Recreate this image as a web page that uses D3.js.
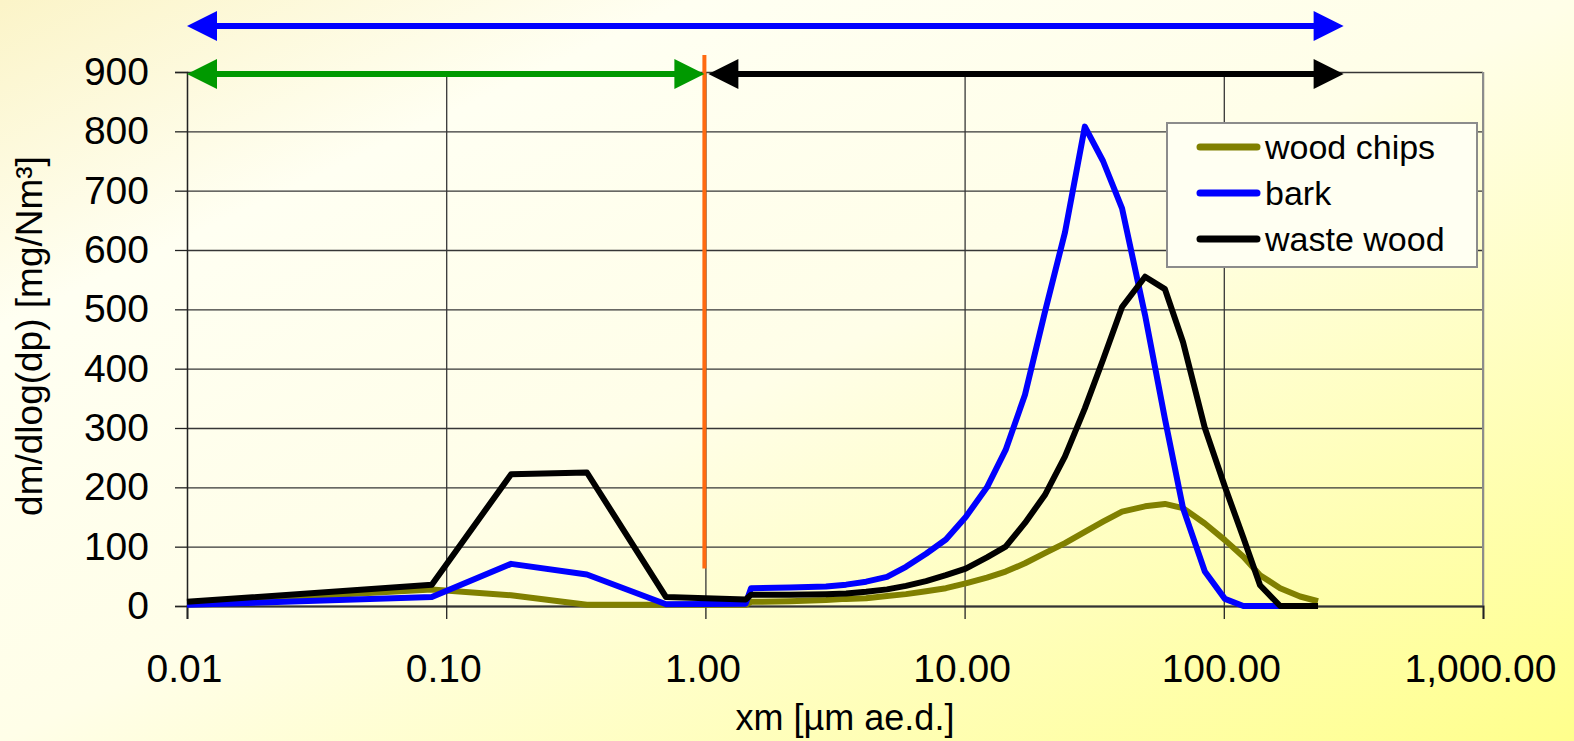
<!DOCTYPE html>
<html>
<head>
<meta charset="utf-8">
<script src="https://cdn.jsdelivr.net/npm/d3@7"></script>
<style>
  html, body { margin: 0; padding: 0; overflow: hidden; }
  svg { display: block; font-family: "Liberation Sans", Arial, sans-serif; }
</style>
</head>
<body>
<div id="chart"></div>
<script>
// ── chart geometry ─────────────────────────────────────────
const W      = 1574;
const H      = 741;
const MARGIN = { top: 72, right: 91, bottom: 135, left: 187 };

// ── data ───────────────────────────────────────────────────
// particle size classes, µm ae.d. (impactor part, then counter part)
const xm = [0.01, 0.088, 0.178, 0.349, 0.705, 1.43,
            1.50, 2.12, 2.92, 3.49, 4.17, 5.02, 5.94, 7.10, 8.47, 10.1,
            12.2, 14.4, 17.1, 20.4, 24.4, 29.1, 34.2, 40.5, 49.7, 59.3,
            69.6, 84.5, 101, 119, 138, 165, 197, 231];

const woodChips = [5, 28, 18, 2, 2, 2,
                   7, 8, 10, 12, 13, 17, 20, 25, 30, 38,
                   48, 58, 72, 89, 106, 125, 142, 159, 168, 172,
                   165, 139, 111, 83, 52, 30, 16, 8];

const bark      = [2, 15, 71, 53, 3, 4,
                   30, 31, 33, 36, 41, 49, 66, 88, 112, 150,
                   200, 263, 356, 495, 630, 808, 750, 670, 490, 315,
                   165, 58, 12, 0, 0, 0, null, null];

const wasteWood = [7, 36, 222, 225, 15, 11,
                   19, 19, 20, 21, 24, 28, 34, 42, 52, 63,
                   82, 100, 140, 187, 252, 333, 415, 504, 555, 534,
                   445, 300, 201, 115, 35, 0, 0, 0];

const seriesNames  = ["wood chips", "bark", "waste wood"];
const seriesColors = ["#808000", "#0000ff", "#000000"];

const xTicks = [0.01, 0.1, 1, 10, 100, 1000];
const yTicks = [0, 100, 200, 300, 400, 500, 600, 700, 800, 900];

const cutSize   = 1.0;          // orange separator (µm)
const cutBottom = 63;           // where it stops (mg/Nm³)
const rangeEnd  = 290;          // right end of the range arrows (µm)

const xTitle = "xm [µm ae.d.]";
const yTitle = "dm/dlog(dp) [mg/Nm³]";

// ── setup ─────────────────────────────────────────────────
const iW = W - MARGIN.left - MARGIN.right;
const iH = H - MARGIN.top - MARGIN.bottom;

const x = d3.scaleLog().domain([0.01, 1000]).range([0, iW]);
const y = d3.scaleLinear().domain([0, 900]).range([iH, 0]);

const svg = d3.select("#chart").append("svg").attr("width", W).attr("height", H);

const defs = svg.append("defs");
const bg = defs.append("linearGradient").attr("id", "bg")
  .attr("x1", 0).attr("y1", 0).attr("x2", 1).attr("y2", 1);
bg.append("stop").attr("offset", "0%").attr("stop-color", "#fbf4c8");
bg.append("stop").attr("offset", "22%").attr("stop-color", "#fffff2");
bg.append("stop").attr("offset", "50%").attr("stop-color", "#fffee8");
bg.append("stop").attr("offset", "100%").attr("stop-color", "#ffff8c");

svg.append("rect").attr("width", W).attr("height", H).attr("fill", "url(#bg)");

const g = svg.append("g").attr("transform", `translate(${MARGIN.left},${MARGIN.top})`);

// Grid
g.append("g")
  .call(d3.axisLeft(y).tickValues(yTicks).tickSize(-iW).tickFormat(""))
  .call(ax => ax.select(".domain").remove())
  .call(ax => ax.selectAll("line").attr("stroke", "#363636").attr("stroke-width", 1.3));

g.append("g")
  .call(d3.axisBottom(x).tickValues(xTicks).tickSize(iH).tickFormat(""))
  .call(ax => ax.select(".domain").remove())
  .call(ax => ax.selectAll("line").attr("stroke", "#363636").attr("stroke-width", 1.3));

// right border
g.append("line").attr("x1", iW).attr("x2", iW).attr("y1", 0).attr("y2", iH)
  .attr("stroke", "#8c8c8c").attr("stroke-width", 2);

// Y axis
g.append("g")
  .call(d3.axisLeft(y).tickValues(yTicks).tickSize(12).tickPadding(26))
  .call(ax => ax.select(".domain").attr("stroke", "#222").attr("stroke-width", 1.3))
  .call(ax => ax.selectAll("line").attr("stroke", "#222").attr("stroke-width", 1.3))
  .call(ax => ax.selectAll("text").attr("fill", "#000").attr("font-size", 39)
    .attr("font-family", "Liberation Sans, Arial, sans-serif"));

// X axis
g.append("g").attr("transform", `translate(0,${iH})`)
  .call(d3.axisBottom(x).tickValues(xTicks).tickSize(13).tickPadding(0)
    .tickFormat(d3.format(",.2f")))
  .call(ax => ax.select(".domain").attr("stroke", "#333").attr("stroke-width", 2))
  .call(ax => ax.selectAll("line").attr("stroke", "#222").attr("stroke-width", 1.3))
  .call(ax => ax.selectAll("text").attr("fill", "#000").attr("font-size", 39)
    .attr("font-family", "Liberation Sans, Arial, sans-serif")
    .attr("dy", null).attr("y", 76).attr("dx", -3));

// Axis titles
svg.append("text")
  .attr("transform", `translate(42,${MARGIN.top + iH / 2 - 3}) rotate(-90)`)
  .attr("text-anchor", "middle").attr("font-size", 37).attr("fill", "#000")
  .text(yTitle);

svg.append("text")
  .attr("x", MARGIN.left + iW / 2 + 10).attr("y", 730)
  .attr("text-anchor", "middle").attr("font-size", 36).attr("fill", "#000")
  .text(xTitle);

// Series
const allSeries = [woodChips, bark, wasteWood].map((vals, i) => ({
  name: seriesNames[i],
  color: seriesColors[i],
  points: xm.map((v, j) => ({ xm: v, val: vals[j] }))
}));

const line = d3.line()
  .defined(d => d.val != null)
  .x(d => x(d.xm))
  .y(d => y(d.val));

allSeries.forEach(s => {
  g.append("path").datum(s.points)
    .attr("d", line)
    .attr("fill", "none")
    .attr("stroke", s.color)
    .attr("stroke-width", 6)
    .attr("stroke-linejoin", "round");
});

// Orange separator line
g.append("line")
  .attr("x1", x(cutSize) - 1).attr("x2", x(cutSize) - 1)
  .attr("y1", -17).attr("y2", y(cutBottom))
  .attr("stroke", "#ff6a10").attr("stroke-width", 4);

// Range arrows
function arrow(x1, x2, yy, color) {
  const L = 30, hw = 15;
  g.append("line").attr("x1", x1 + L - 2).attr("x2", x2 - L + 2).attr("y1", yy).attr("y2", yy)
    .attr("stroke", color).attr("stroke-width", 6);
  g.append("path")
    .attr("d", `M${x1},${yy} L${x1 + L},${yy - hw} L${x1 + L},${yy + hw} Z`)
    .attr("fill", color);
  g.append("path")
    .attr("d", `M${x2},${yy} L${x2 - L},${yy - hw} L${x2 - L},${yy + hw} Z`)
    .attr("fill", color);
}

arrow(x(0.01), x(rangeEnd), y(900) - 46, "#0000ff");
arrow(x(0.01), x(cutSize) - 1, y(900) + 2, "#009900");
arrow(x(cutSize) + 3, x(rangeEnd), y(900) + 2, "#000000");

// Legend
const lg = svg.append("g").attr("transform", "translate(1167,123)");
lg.append("rect").attr("width", 310).attr("height", 144)
  .attr("fill", "#fffff2").attr("stroke", "#8c8c8c").attr("stroke-width", 2);

allSeries.forEach((s, i) => {
  const yy = 24 + i * 46;
  lg.append("line").attr("x1", 33).attr("x2", 90).attr("y1", yy).attr("y2", yy)
    .attr("stroke", s.color).attr("stroke-width", 7).attr("stroke-linecap", "round");
  lg.append("text").attr("x", 98).attr("y", yy + 12)
    .attr("font-size", 34).attr("fill", "#000").text(s.name);
});
</script>
</body>
</html>
